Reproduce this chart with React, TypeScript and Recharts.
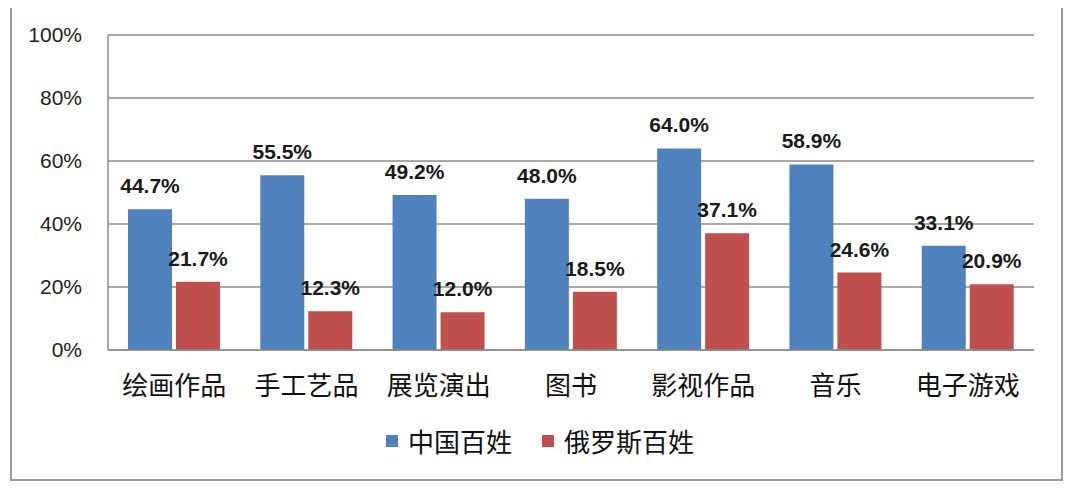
import React from "react";
import { BarChart, Bar, XAxis, YAxis, CartesianGrid, LabelList } from "recharts";

const categories = ["绘画作品", "手工艺品", "展览演出", "图书", "影视作品", "音乐", "电子游戏"];
const chinaValues = [44.7, 55.5, 49.2, 48.0, 64.0, 58.9, 33.1];
const russiaValues = [21.7, 12.3, 12.0, 18.5, 37.1, 24.6, 20.9];
const yTicks = [0, 20, 40, 60, 80, 100];
const seriesNames = ["中国百姓", "俄罗斯百姓"];
const seriesColors = ["#4F81BD", "#C0504D"];

const data = categories.map((name, i) => ({
  name,
  china: chinaValues[i],
  russia: russiaValues[i],
}));

const labelFmt = (v: any) => `${Number(v).toFixed(1)}%`;
const labelStyle = { fontFamily: "'Liberation Sans', Arial, sans-serif", fontSize: 21, fontWeight: 700, fill: "#1a1a1a" };

const LegendBox = () => (
  <div style={{ display: "flex", justifyContent: "center", alignItems: "center", width: 1080 }}>
    {seriesNames.map((n, i) => (
      <div key={n} style={{ display: "flex", alignItems: "center", marginRight: i === 0 ? 30 : 0 }}>
        <div style={{ width: 12, height: 12, background: seriesColors[i], marginRight: 10 }} />
        <span style={{ fontFamily: "'Noto Sans CJK SC', sans-serif", fontSize: 26, color: "#111", lineHeight: "38px" }}>{n}</span>
      </div>
    ))}
  </div>
);

const App: React.FC = () => {
  return (
    <div style={{ position: "relative", width: 1080, height: 490, margin: -8, background: "#fff", overflow: "hidden" }}>
      <div
        style={{
          position: "absolute",
          left: 10,
          top: -10,
          width: 1053,
          height: 491,
          border: "2px solid #9a9a9a",
          boxSizing: "border-box",
        }}
      />
      <div style={{ position: "absolute", left: 0, top: 0 }}>
        <BarChart
          width={1080}
          height={490}
          data={data}
          margin={{ top: 35, right: 46, left: 0, bottom: 90 }}
          barGap={4}
        >
          <CartesianGrid vertical={false} stroke="#8c8c8c" strokeWidth={1.5} />
          <XAxis
            dataKey="name"
            axisLine={{ stroke: "#8c8c8c", strokeWidth: 1.5 }}
            tickLine={false}
            tickSize={0}
            tickMargin={27}
            height={50}
            interval={0}
            tick={{ fontFamily: "'Noto Sans CJK SC', sans-serif", fontSize: 26, fill: "#111" }}
          />
          <YAxis
            domain={[0, 100]}
            ticks={yTicks}
            width={108}
            axisLine={{ stroke: "#8c8c8c", strokeWidth: 1.5 }}
            tickLine={false}
            tickSize={0}
            tickMargin={26}
            tickFormatter={(v: number) => `${v}%`}
            tick={{ fontFamily: "'Liberation Sans', Arial, sans-serif", fontSize: 21, fill: "#222" }}
          />
          <Bar dataKey="china" name={seriesNames[0]} fill={seriesColors[0]} barSize={44} isAnimationActive={false}>
            <LabelList dataKey="china" position="top" offset={16} formatter={labelFmt} style={labelStyle} />
          </Bar>
          <Bar dataKey="russia" name={seriesNames[1]} fill={seriesColors[1]} barSize={44} isAnimationActive={false}>
            <LabelList dataKey="russia" position="top" offset={16} formatter={labelFmt} style={labelStyle} />
          </Bar>
        </BarChart>
      </div>
      <div style={{ position: "absolute", left: 0, top: 422 }}>
        <LegendBox />
      </div>
    </div>
  );
};

export default App;
